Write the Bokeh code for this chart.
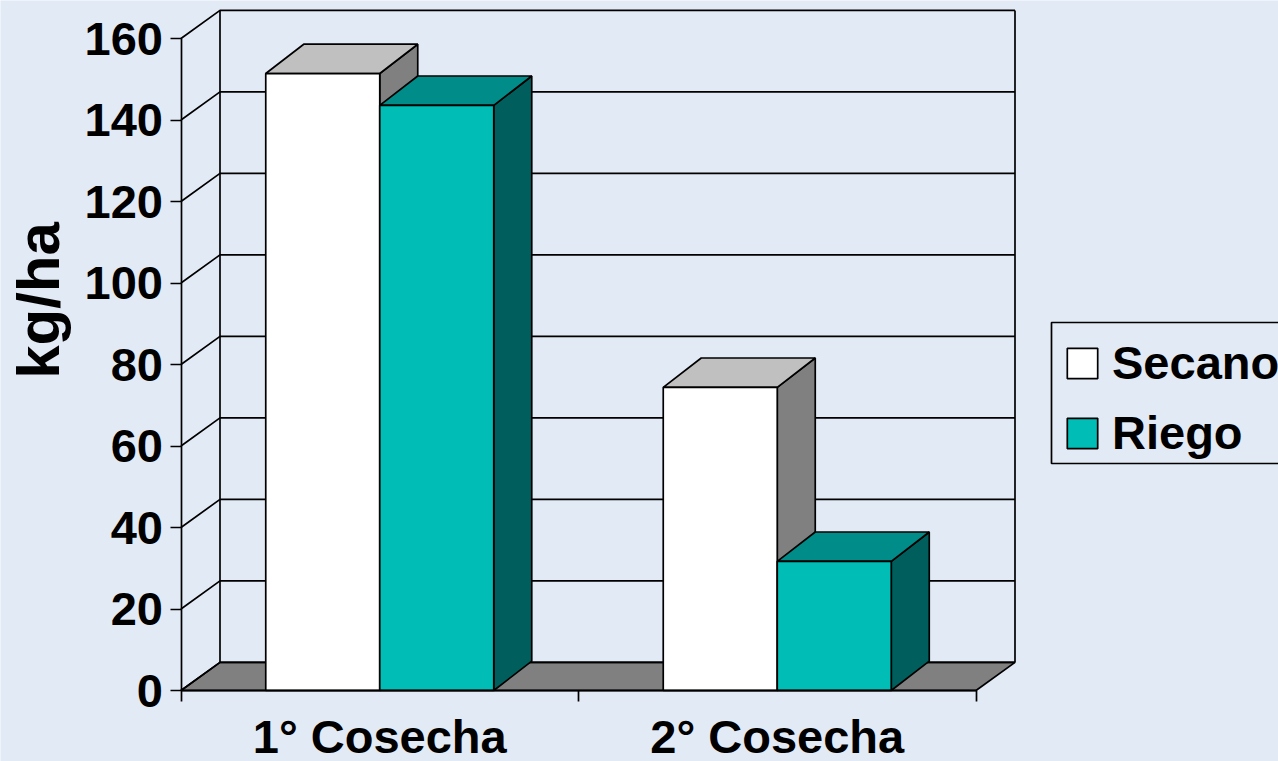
from bokeh.plotting import figure
from bokeh.embed import file_html
from bokeh.resources import INLINE
from bokeh.models import Range1d, FixedTicker, Legend, LegendItem, Label, LinearAxis, BoxAnnotation

categories = ["1° Cosecha", "2° Cosecha"]
secano = [151.4, 74.4]
riego = [143.6, 31.7]
y_ticks = [0, 20, 40, 60, 80, 100, 120, 140, 160]

BG = "#E2EAF5"
FONT = "Liberation Sans"
DX, DY = 0.0981, 6.9      # depth of the walls
BDX, BDY = 0.0956, 7.2    # depth of the bars
BW = 0.2868
LW = 1.7
PX, PY = 397.5, 4.075     # pixels per data unit

centers = [i + 0.5 for i in range(len(categories))]

p = figure(width=1278, height=761, output_backend="svg", toolbar_location=None,
           x_range=Range1d(-180.5 / PX, 1097.5 / PX), y_range=Range1d(-71 / PY, 690 / PY),
           x_axis_type=None, y_axis_type=None,
           min_border_left=0, min_border_right=0, min_border_top=0, min_border_bottom=0,
           background_fill_color=BG, border_fill_color=BG, outline_line_color=None)
p.grid.visible = False

n = len(categories)
# floor
p.patch([0, DX, n + DX, n], [0, DY, DY, 0], fill_color="#808080", line_color="black", line_width=LW)
# walls and gridlines
xs = [[0, DX, n + DX] for t in y_ticks] + [[DX, DX], [n + DX, n + DX]]
ys = [[t, t + DY, t + DY] for t in y_ticks] + [[DY, y_ticks[-1] + DY], [DY, y_ticks[-1] + DY]]
p.multi_line(xs, ys, line_color="black", line_width=LW)


def bars(lefts, vals, front, top, side):
    rights = [l + BW for l in lefts]
    p.patches([[r, r + BDX, r + BDX, r] for r in rights],
              [[0, BDY, v + BDY, v] for v in vals],
              fill_color=side, line_color="black", line_width=LW)
    p.patches([[l, l + BDX, r + BDX, r] for l, r in zip(lefts, rights)],
              [[v, v + BDY, v + BDY, v] for v in vals],
              fill_color=top, line_color="black", line_width=LW)
    return p.quad(left=lefts, right=rights, bottom=[0] * len(vals), top=vals,
                  fill_color=front, line_color="black", line_width=LW)


# draw back-to-front for each category
r1a = bars([centers[0] - BW], secano[:1], "#FFFFFF", "#C0C0C0", "#808080")
r2a = bars([centers[0]], riego[:1], "#00BDB6", "#008C88", "#005F5C")
r1b = bars([centers[1] - BW], secano[1:], "#FFFFFF", "#C0C0C0", "#808080")
r2b = bars([centers[1]], riego[1:], "#00BDB6", "#008C88", "#005F5C")

# axes
yax = LinearAxis(ticker=FixedTicker(ticks=y_ticks), bounds=(0, y_ticks[-1]), fixed_location=0,
                 major_label_text_font=FONT, major_label_text_font_size="47px",
                 major_label_text_font_style="bold", major_label_text_color="black",
                 major_tick_out=11, major_tick_in=0, major_tick_line_width=LW,
                 axis_line_width=LW, major_label_standoff=7)
p.add_layout(yax, "left")

xax = LinearAxis(ticker=FixedTicker(ticks=centers, minor_ticks=[0, 1, 2]), bounds=(0, n), fixed_location=0,
                 major_label_overrides={c: t for c, t in zip(centers, categories)},
                 major_label_text_font=FONT, major_label_text_font_size="47px",
                 major_label_text_font_style="bold", major_label_text_color="black",
                 major_tick_out=0, major_tick_in=0,
                 minor_tick_out=11, minor_tick_in=0, minor_tick_line_width=LW,
                 axis_line_width=2.2, major_label_standoff=8)
p.add_layout(xax, "below")

p.add_layout(Label(x=38, y=461, x_units="screen", y_units="screen", text="kg/ha", angle=90, angle_units="deg",
                   text_align="center", text_baseline="middle", text_font=FONT,
                   text_font_size="60px", text_font_style="bold", text_color="black"))

p.add_layout(BoxAnnotation(left=1051, right=1290, top=439, bottom=298,
                           left_units="screen", right_units="screen", top_units="screen", bottom_units="screen",
                           fill_color=BG, fill_alpha=1, line_color="black", line_width=LW, line_alpha=1))

legend = Legend(items=[LegendItem(label="Secano", renderers=[r1a]),
                       LegendItem(label="Riego", renderers=[r2a])],
                location=(1063, 301), glyph_width=38, glyph_height=38, label_standoff=11,
                padding=0, spacing=15, margin=0,
                label_text_font=FONT, label_text_font_size="47px",
                label_text_font_style="bold", label_text_color="black",
                background_fill_alpha=0, border_line_color=None)
p.add_layout(legend, "center")

open("out.html", "w").write(file_html(p, INLINE))
